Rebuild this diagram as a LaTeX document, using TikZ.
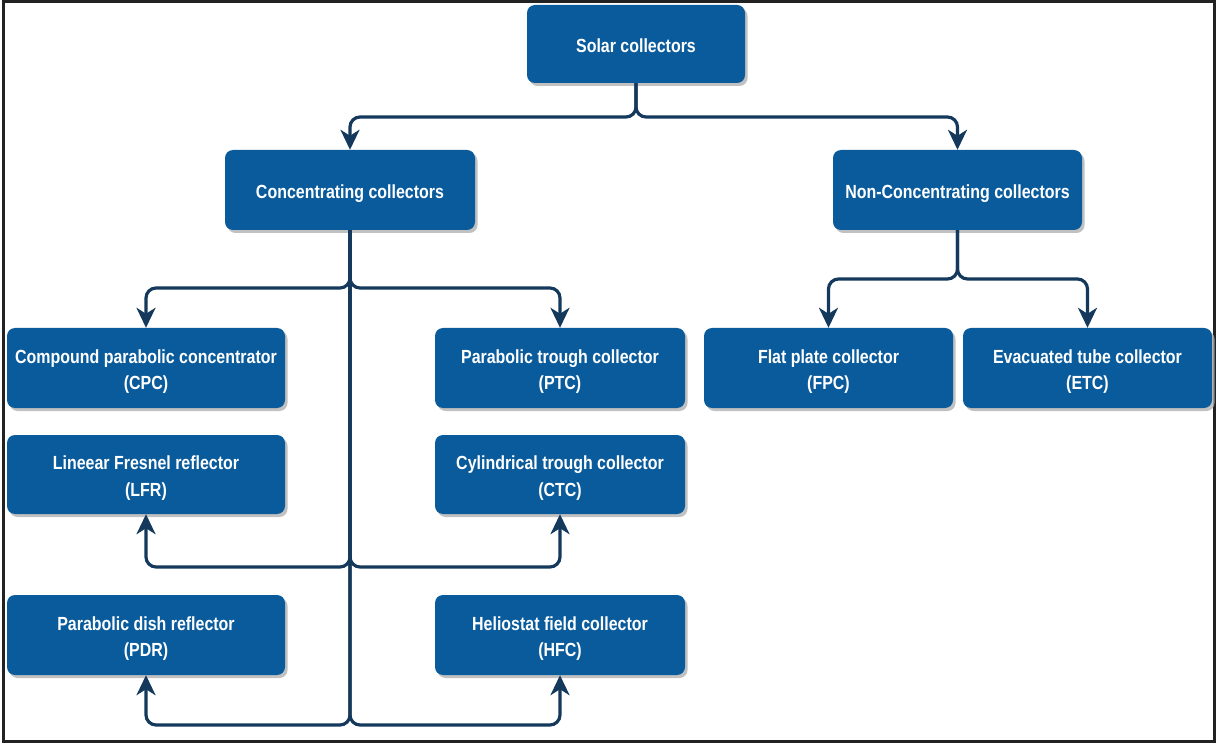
\documentclass[tikz,border=0pt]{standalone}
\usepackage{fontspec}
\setmainfont[FakeStretch=0.84]{Liberation Sans}
\usetikzlibrary{arrows.meta,shadows}

\definecolor{boxblue}{HTML}{0A5B9C}
\definecolor{linenavy}{HTML}{15395C}
\definecolor{framegray}{HTML}{222222}

% box label, lowered slightly inside its box
\newcommand\boxtext[1]{\raisebox{-3pt}[\height][\depth]{\begin{tabular}{@{}c@{}}#1\end{tabular}}}

\tikzset{
  catbox/.style={
    draw=none, fill=boxblue, rounded corners=8pt,
    text=white, font=\bfseries\fontsize{19}{26.5}\selectfont,
    inner sep=0pt,
    drop shadow={shadow xshift=2.5pt, shadow yshift=-3pt, fill=black!30, opacity=0.8}
  },
  conn/.style={
    draw=linenavy, line width=3.2pt, rounded corners=10pt,
    -{Stealth[length=20pt,width=19pt,inset=6pt]}
  }
}

\begin{document}
\begin{tikzpicture}[x=1pt,y=-1pt]
  \useasboundingbox (0,0) rectangle (1216,743);
  \fill[white] (0,0) rectangle (1216,743);
  % outer frame
  \draw[framegray, line width=2.5pt] (3.5,1.5) rectangle (1214.5,741.5);

  % boxes
  \node[catbox, minimum width=218pt, minimum height=78pt] (root) at (636,44) {\boxtext{Solar collectors}};

  \node[catbox, minimum width=250pt, minimum height=80pt] (conc) at (350,190) {\boxtext{Concentrating collectors}};
  \node[catbox, minimum width=249pt, minimum height=80pt] (nonc) at (957.5,190) {\boxtext{Non-Concentrating collectors}};

  \node[catbox, minimum width=278pt, minimum height=80pt] (cpc) at (146,368) {\boxtext{Compound parabolic concentrator\\(CPC)}};
  \node[catbox, minimum width=250pt, minimum height=80pt] (ptc) at (560,368) {\boxtext{Parabolic trough collector\\(PTC)}};
  \node[catbox, minimum width=249pt, minimum height=80pt] (fpc) at (828.5,368) {\boxtext{Flat plate collector\\(FPC)}};
  \node[catbox, minimum width=249pt, minimum height=80pt] (etc) at (1087.5,368) {\boxtext{Evacuated tube collector\\(ETC)}};

  \node[catbox, minimum width=278pt, minimum height=79pt] (lfr) at (146,474.5) {\boxtext{Lineear Fresnel reflector\\(LFR)}};
  \node[catbox, minimum width=250pt, minimum height=79pt] (ctc) at (560,474.5) {\boxtext{Cylindrical trough collector\\(CTC)}};

  \node[catbox, minimum width=278pt, minimum height=80pt] (pdr) at (146,635) {\boxtext{Parabolic dish reflector\\(PDR)}};
  \node[catbox, minimum width=250pt, minimum height=80pt] (hfc) at (560,635) {\boxtext{Heliostat field collector\\(HFC)}};

  % junction levels
  \coordinate (jroot) at (636,117);
  \coordinate (jconc) at (350,288);
  \coordinate (jmid)  at (350,567);
  \coordinate (jlow)  at (350,725);
  \coordinate (jnonc) at (957.5,279);

  % connectors
  \draw[conn] (root.south) -- (root.south |- jroot) -| (conc.north);
  \draw[conn] (root.south) -- (root.south |- jroot) -| (nonc.north);

  \draw[conn] (conc.south) -- (jconc) -| (cpc.north);
  \draw[conn] (conc.south) -- (jconc) -| (ptc.north);
  \draw[conn] (conc.south) -- (jmid) -| (lfr.south);
  \draw[conn] (conc.south) -- (jmid) -| (ctc.south);
  \draw[conn] (conc.south) -- (jlow) -| (pdr.south);
  \draw[conn] (conc.south) -- (jlow) -| (hfc.south);

  \draw[conn] (nonc.south) -- (jnonc) -| (fpc.north);
  \draw[conn] (nonc.south) -- (jnonc) -| (etc.north);
\end{tikzpicture}
\end{document}
